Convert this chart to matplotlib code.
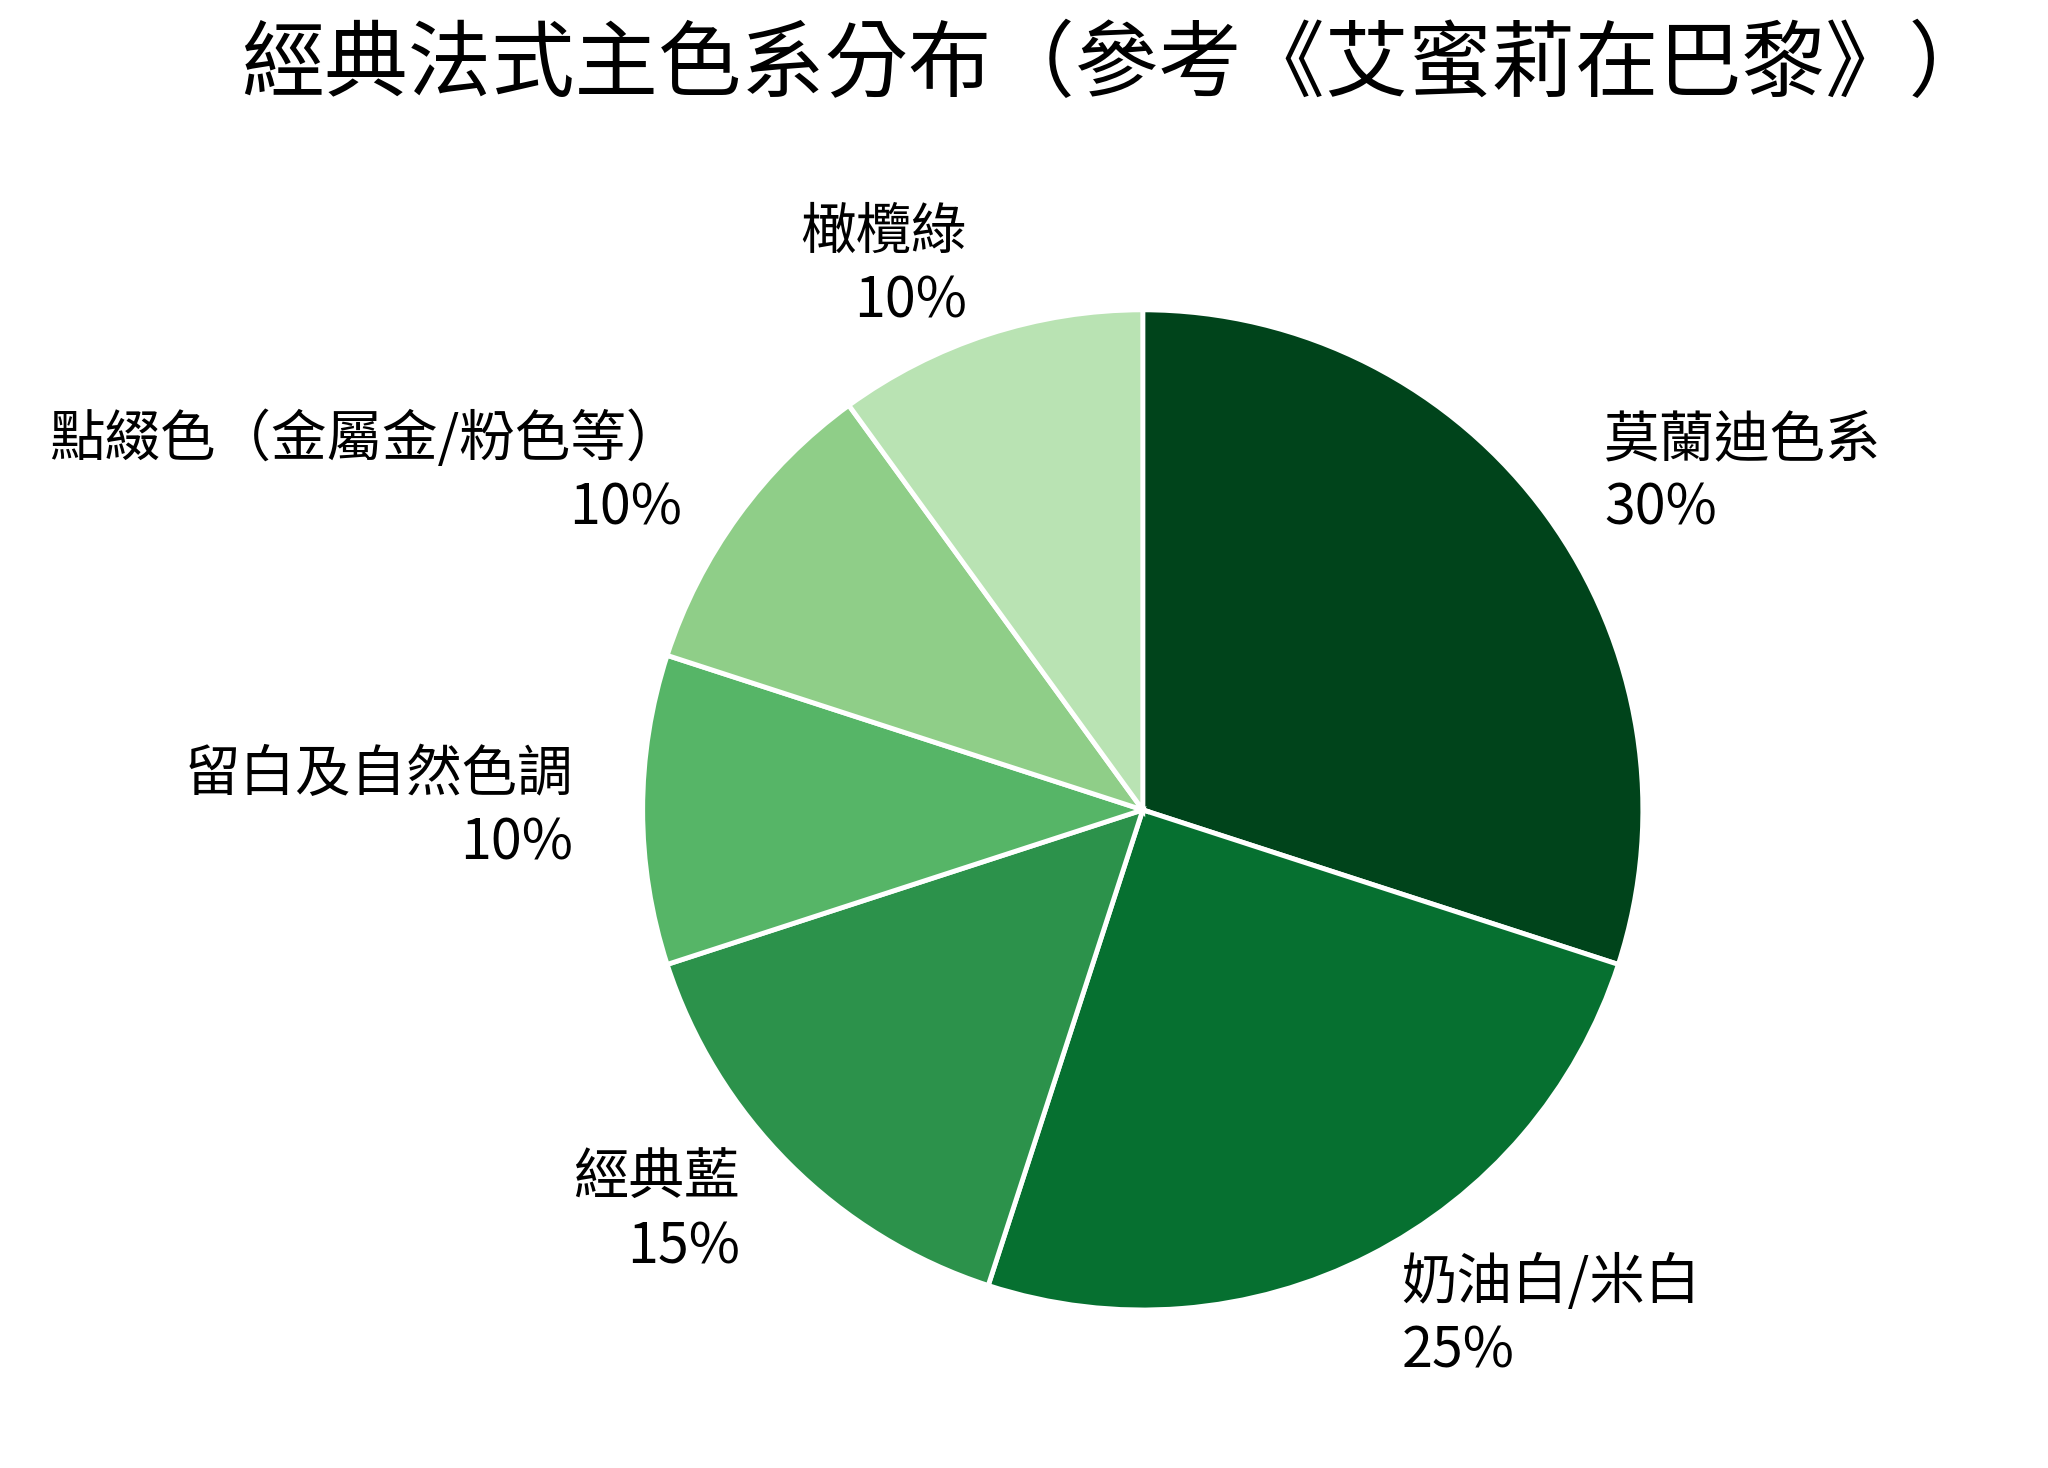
import matplotlib.pyplot as plt

plt.rcParams['font.family'] = ['Noto Sans CJK TC', 'DejaVu Sans']

labels = ['莫蘭迪色系', '奶油白/米白', '經典藍', '留白及自然色調', '點綴色（金屬金/粉色等）', '橄欖綠']
values = [30, 25, 15, 10, 10, 10]
colors = ['#00441b', '#067030', '#2c924b', '#56b567', '#8fce88', '#b9e3b3']

texts = [f'{l}\n{v}%' for l, v in zip(labels, values)]

fig = plt.figure(figsize=(20.48, 14.68), dpi=100)
ax = fig.add_axes([0.0, 0.0, 1.0, 0.9])
ax.pie(values, labels=texts, colors=colors, startangle=90, counterclock=False,
       labeldistance=1.14, radius=1.0,
       wedgeprops=dict(edgecolor='white', linewidth=3.5),
       textprops=dict(fontsize=40, linespacing=1.25))
ax.set_aspect('equal')
ax.set_xlim(-2.285, 1.81)
ax.set_ylim(-1.316, 1.326)

fig.suptitle('經典法式主色系分布（參考《艾蜜莉在巴黎》）', fontsize=60, x=0.545, y=0.985)
fig.savefig('out.png', dpi=100)
